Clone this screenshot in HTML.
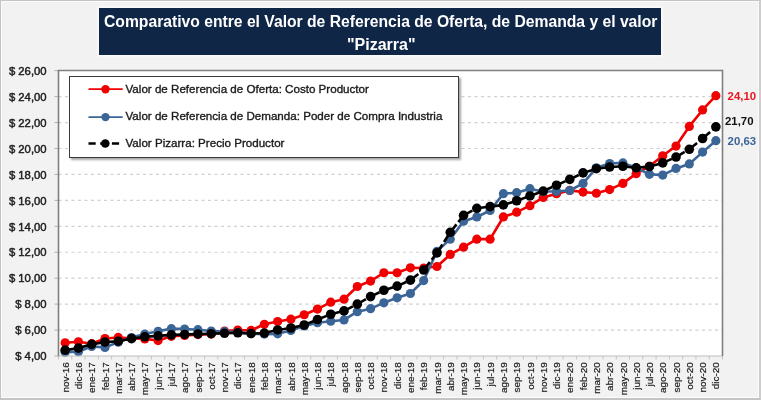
<!DOCTYPE html>
<html><head><meta charset="utf-8">
<style>
html,body{margin:0;padding:0;}
body{width:761px;height:400px;overflow:hidden;position:relative;background:#f2f2f2;font-family:"Liberation Sans",sans-serif;}
.frame{position:absolute;left:0;top:0;width:761px;height:400px;box-sizing:border-box;border-top:1px solid #c4c4c4;border-left:1px solid #c4c4c4;border-right:2px solid #cdcdcd;border-bottom:2px solid #c4c4c4;}
.inner{position:absolute;left:1px;top:1px;right:2px;bottom:2px;border:1px solid #fbfbfb;}
.title{position:absolute;left:99px;top:8px;width:562px;height:46.5px;background:#0f2647;color:#fff;font-weight:bold;box-shadow:0 0 2px 2px #f9f9f9;}
.t1,.t2{position:absolute;white-space:nowrap;font-size:16px;line-height:16px;transform-origin:0 0;}
.t1{transform:scaleX(0.98);}
svg{position:absolute;left:0;top:0;}
.legend{position:absolute;left:68.5px;top:75.5px;width:388px;height:80.3px;background:#fff;border:1.3px solid #3a3a3a;box-shadow:2px 2px 2px rgba(0,0,0,0.35);}
.li{position:absolute;left:56px;font-size:11.6px;color:#1a1a1a;white-space:nowrap;line-height:12px;-webkit-text-stroke:0.35px #1a1a1a;}
#w{position:absolute;left:0;top:0;width:761px;height:400px;filter:blur(0.4px);}
</style></head><body><div id="w">
<div class="frame"></div><div class="inner"></div>
<div class="title"><div class="t1" style="left:4.7px;top:6.3px;">Comparativo entre el Valor de Referencia de Oferta, de Demanda y el valor</div><div class="t2" style="left:248px;top:29px;">"Pizarra"</div></div>
<svg width="761" height="400" viewBox="0 0 761 400">
<rect x="58.5" y="70.5" width="664.0" height="285.5" fill="#fff"/>
<line x1="58.5" y1="330.06" x2="722.5" y2="330.06" stroke="#d0d0d0" stroke-width="1.2" stroke-dasharray="3 3.5"/><line x1="58.5" y1="304.12" x2="722.5" y2="304.12" stroke="#d0d0d0" stroke-width="1.2" stroke-dasharray="3 3.5"/><line x1="58.5" y1="278.18" x2="722.5" y2="278.18" stroke="#d0d0d0" stroke-width="1.2" stroke-dasharray="3 3.5"/><line x1="58.5" y1="252.24" x2="722.5" y2="252.24" stroke="#d0d0d0" stroke-width="1.2" stroke-dasharray="3 3.5"/><line x1="58.5" y1="226.30" x2="722.5" y2="226.30" stroke="#d0d0d0" stroke-width="1.2" stroke-dasharray="3 3.5"/><line x1="58.5" y1="200.36" x2="722.5" y2="200.36" stroke="#d0d0d0" stroke-width="1.2" stroke-dasharray="3 3.5"/><line x1="58.5" y1="174.42" x2="722.5" y2="174.42" stroke="#d0d0d0" stroke-width="1.2" stroke-dasharray="3 3.5"/><line x1="58.5" y1="148.48" x2="722.5" y2="148.48" stroke="#d0d0d0" stroke-width="1.2" stroke-dasharray="3 3.5"/><line x1="58.5" y1="122.54" x2="722.5" y2="122.54" stroke="#d0d0d0" stroke-width="1.2" stroke-dasharray="3 3.5"/><line x1="58.5" y1="96.60" x2="722.5" y2="96.60" stroke="#d0d0d0" stroke-width="1.2" stroke-dasharray="3 3.5"/><line x1="54.5" y1="356.00" x2="58.5" y2="356.00" stroke="#b0b0b0" stroke-width="1"/><line x1="54.5" y1="330.06" x2="58.5" y2="330.06" stroke="#b0b0b0" stroke-width="1"/><line x1="54.5" y1="304.12" x2="58.5" y2="304.12" stroke="#b0b0b0" stroke-width="1"/><line x1="54.5" y1="278.18" x2="58.5" y2="278.18" stroke="#b0b0b0" stroke-width="1"/><line x1="54.5" y1="252.24" x2="58.5" y2="252.24" stroke="#b0b0b0" stroke-width="1"/><line x1="54.5" y1="226.30" x2="58.5" y2="226.30" stroke="#b0b0b0" stroke-width="1"/><line x1="54.5" y1="200.36" x2="58.5" y2="200.36" stroke="#b0b0b0" stroke-width="1"/><line x1="54.5" y1="174.42" x2="58.5" y2="174.42" stroke="#b0b0b0" stroke-width="1"/><line x1="54.5" y1="148.48" x2="58.5" y2="148.48" stroke="#b0b0b0" stroke-width="1"/><line x1="54.5" y1="122.54" x2="58.5" y2="122.54" stroke="#b0b0b0" stroke-width="1"/><line x1="54.5" y1="96.60" x2="58.5" y2="96.60" stroke="#b0b0b0" stroke-width="1"/><line x1="54.5" y1="70.66" x2="58.5" y2="70.66" stroke="#b0b0b0" stroke-width="1"/><line x1="58.50" y1="356.0" x2="58.50" y2="359.5" stroke="#c4c4c4" stroke-width="1"/><line x1="71.78" y1="356.0" x2="71.78" y2="359.5" stroke="#c4c4c4" stroke-width="1"/><line x1="85.06" y1="356.0" x2="85.06" y2="359.5" stroke="#c4c4c4" stroke-width="1"/><line x1="98.34" y1="356.0" x2="98.34" y2="359.5" stroke="#c4c4c4" stroke-width="1"/><line x1="111.62" y1="356.0" x2="111.62" y2="359.5" stroke="#c4c4c4" stroke-width="1"/><line x1="124.90" y1="356.0" x2="124.90" y2="359.5" stroke="#c4c4c4" stroke-width="1"/><line x1="138.18" y1="356.0" x2="138.18" y2="359.5" stroke="#c4c4c4" stroke-width="1"/><line x1="151.46" y1="356.0" x2="151.46" y2="359.5" stroke="#c4c4c4" stroke-width="1"/><line x1="164.74" y1="356.0" x2="164.74" y2="359.5" stroke="#c4c4c4" stroke-width="1"/><line x1="178.02" y1="356.0" x2="178.02" y2="359.5" stroke="#c4c4c4" stroke-width="1"/><line x1="191.30" y1="356.0" x2="191.30" y2="359.5" stroke="#c4c4c4" stroke-width="1"/><line x1="204.58" y1="356.0" x2="204.58" y2="359.5" stroke="#c4c4c4" stroke-width="1"/><line x1="217.86" y1="356.0" x2="217.86" y2="359.5" stroke="#c4c4c4" stroke-width="1"/><line x1="231.14" y1="356.0" x2="231.14" y2="359.5" stroke="#c4c4c4" stroke-width="1"/><line x1="244.42" y1="356.0" x2="244.42" y2="359.5" stroke="#c4c4c4" stroke-width="1"/><line x1="257.70" y1="356.0" x2="257.70" y2="359.5" stroke="#c4c4c4" stroke-width="1"/><line x1="270.98" y1="356.0" x2="270.98" y2="359.5" stroke="#c4c4c4" stroke-width="1"/><line x1="284.26" y1="356.0" x2="284.26" y2="359.5" stroke="#c4c4c4" stroke-width="1"/><line x1="297.54" y1="356.0" x2="297.54" y2="359.5" stroke="#c4c4c4" stroke-width="1"/><line x1="310.82" y1="356.0" x2="310.82" y2="359.5" stroke="#c4c4c4" stroke-width="1"/><line x1="324.10" y1="356.0" x2="324.10" y2="359.5" stroke="#c4c4c4" stroke-width="1"/><line x1="337.38" y1="356.0" x2="337.38" y2="359.5" stroke="#c4c4c4" stroke-width="1"/><line x1="350.66" y1="356.0" x2="350.66" y2="359.5" stroke="#c4c4c4" stroke-width="1"/><line x1="363.94" y1="356.0" x2="363.94" y2="359.5" stroke="#c4c4c4" stroke-width="1"/><line x1="377.22" y1="356.0" x2="377.22" y2="359.5" stroke="#c4c4c4" stroke-width="1"/><line x1="390.50" y1="356.0" x2="390.50" y2="359.5" stroke="#c4c4c4" stroke-width="1"/><line x1="403.78" y1="356.0" x2="403.78" y2="359.5" stroke="#c4c4c4" stroke-width="1"/><line x1="417.06" y1="356.0" x2="417.06" y2="359.5" stroke="#c4c4c4" stroke-width="1"/><line x1="430.34" y1="356.0" x2="430.34" y2="359.5" stroke="#c4c4c4" stroke-width="1"/><line x1="443.62" y1="356.0" x2="443.62" y2="359.5" stroke="#c4c4c4" stroke-width="1"/><line x1="456.90" y1="356.0" x2="456.90" y2="359.5" stroke="#c4c4c4" stroke-width="1"/><line x1="470.18" y1="356.0" x2="470.18" y2="359.5" stroke="#c4c4c4" stroke-width="1"/><line x1="483.46" y1="356.0" x2="483.46" y2="359.5" stroke="#c4c4c4" stroke-width="1"/><line x1="496.74" y1="356.0" x2="496.74" y2="359.5" stroke="#c4c4c4" stroke-width="1"/><line x1="510.02" y1="356.0" x2="510.02" y2="359.5" stroke="#c4c4c4" stroke-width="1"/><line x1="523.30" y1="356.0" x2="523.30" y2="359.5" stroke="#c4c4c4" stroke-width="1"/><line x1="536.58" y1="356.0" x2="536.58" y2="359.5" stroke="#c4c4c4" stroke-width="1"/><line x1="549.86" y1="356.0" x2="549.86" y2="359.5" stroke="#c4c4c4" stroke-width="1"/><line x1="563.14" y1="356.0" x2="563.14" y2="359.5" stroke="#c4c4c4" stroke-width="1"/><line x1="576.42" y1="356.0" x2="576.42" y2="359.5" stroke="#c4c4c4" stroke-width="1"/><line x1="589.70" y1="356.0" x2="589.70" y2="359.5" stroke="#c4c4c4" stroke-width="1"/><line x1="602.98" y1="356.0" x2="602.98" y2="359.5" stroke="#c4c4c4" stroke-width="1"/><line x1="616.26" y1="356.0" x2="616.26" y2="359.5" stroke="#c4c4c4" stroke-width="1"/><line x1="629.54" y1="356.0" x2="629.54" y2="359.5" stroke="#c4c4c4" stroke-width="1"/><line x1="642.82" y1="356.0" x2="642.82" y2="359.5" stroke="#c4c4c4" stroke-width="1"/><line x1="656.10" y1="356.0" x2="656.10" y2="359.5" stroke="#c4c4c4" stroke-width="1"/><line x1="669.38" y1="356.0" x2="669.38" y2="359.5" stroke="#c4c4c4" stroke-width="1"/><line x1="682.66" y1="356.0" x2="682.66" y2="359.5" stroke="#c4c4c4" stroke-width="1"/><line x1="695.94" y1="356.0" x2="695.94" y2="359.5" stroke="#c4c4c4" stroke-width="1"/><line x1="709.22" y1="356.0" x2="709.22" y2="359.5" stroke="#c4c4c4" stroke-width="1"/><line x1="722.50" y1="356.0" x2="722.50" y2="359.5" stroke="#c4c4c4" stroke-width="1"/><polyline points="65.14,342.78 78.42,341.74 91.70,343.69 104.98,338.50 118.26,337.46 131.54,338.24 144.82,338.89 158.10,340.58 171.38,336.30 184.66,335.39 197.94,334.61 211.22,334.09 224.50,330.98 237.78,330.07 251.06,330.46 264.34,324.23 277.62,321.51 290.90,319.18 304.18,314.77 317.46,309.06 330.74,302.19 344.02,299.20 357.30,286.49 370.58,281.04 383.86,272.74 397.14,272.74 410.42,267.81 423.70,268.07 436.98,266.52 450.26,254.46 463.54,247.19 476.82,239.15 490.10,239.15 503.38,216.97 516.66,212.17 529.94,205.69 543.22,197.39 556.50,193.63 569.78,190.38 583.06,192.07 596.34,193.24 609.62,189.61 622.90,183.38 636.18,173.65 649.46,166.26 662.74,155.75 676.02,146.03 689.30,126.44 702.58,109.97 715.86,95.70" fill="none" stroke="#f00000" stroke-width="2.6" stroke-linejoin="round"/><circle cx="65.14" cy="342.78" r="4.6" fill="#f00000"/><circle cx="78.42" cy="341.74" r="4.6" fill="#f00000"/><circle cx="91.70" cy="343.69" r="4.6" fill="#f00000"/><circle cx="104.98" cy="338.50" r="4.6" fill="#f00000"/><circle cx="118.26" cy="337.46" r="4.6" fill="#f00000"/><circle cx="131.54" cy="338.24" r="4.6" fill="#f00000"/><circle cx="144.82" cy="338.89" r="4.6" fill="#f00000"/><circle cx="158.10" cy="340.58" r="4.6" fill="#f00000"/><circle cx="171.38" cy="336.30" r="4.6" fill="#f00000"/><circle cx="184.66" cy="335.39" r="4.6" fill="#f00000"/><circle cx="197.94" cy="334.61" r="4.6" fill="#f00000"/><circle cx="211.22" cy="334.09" r="4.6" fill="#f00000"/><circle cx="224.50" cy="330.98" r="4.6" fill="#f00000"/><circle cx="237.78" cy="330.07" r="4.6" fill="#f00000"/><circle cx="251.06" cy="330.46" r="4.6" fill="#f00000"/><circle cx="264.34" cy="324.23" r="4.6" fill="#f00000"/><circle cx="277.62" cy="321.51" r="4.6" fill="#f00000"/><circle cx="290.90" cy="319.18" r="4.6" fill="#f00000"/><circle cx="304.18" cy="314.77" r="4.6" fill="#f00000"/><circle cx="317.46" cy="309.06" r="4.6" fill="#f00000"/><circle cx="330.74" cy="302.19" r="4.6" fill="#f00000"/><circle cx="344.02" cy="299.20" r="4.6" fill="#f00000"/><circle cx="357.30" cy="286.49" r="4.6" fill="#f00000"/><circle cx="370.58" cy="281.04" r="4.6" fill="#f00000"/><circle cx="383.86" cy="272.74" r="4.6" fill="#f00000"/><circle cx="397.14" cy="272.74" r="4.6" fill="#f00000"/><circle cx="410.42" cy="267.81" r="4.6" fill="#f00000"/><circle cx="423.70" cy="268.07" r="4.6" fill="#f00000"/><circle cx="436.98" cy="266.52" r="4.6" fill="#f00000"/><circle cx="450.26" cy="254.46" r="4.6" fill="#f00000"/><circle cx="463.54" cy="247.19" r="4.6" fill="#f00000"/><circle cx="476.82" cy="239.15" r="4.6" fill="#f00000"/><circle cx="490.10" cy="239.15" r="4.6" fill="#f00000"/><circle cx="503.38" cy="216.97" r="4.6" fill="#f00000"/><circle cx="516.66" cy="212.17" r="4.6" fill="#f00000"/><circle cx="529.94" cy="205.69" r="4.6" fill="#f00000"/><circle cx="543.22" cy="197.39" r="4.6" fill="#f00000"/><circle cx="556.50" cy="193.63" r="4.6" fill="#f00000"/><circle cx="569.78" cy="190.38" r="4.6" fill="#f00000"/><circle cx="583.06" cy="192.07" r="4.6" fill="#f00000"/><circle cx="596.34" cy="193.24" r="4.6" fill="#f00000"/><circle cx="609.62" cy="189.61" r="4.6" fill="#f00000"/><circle cx="622.90" cy="183.38" r="4.6" fill="#f00000"/><circle cx="636.18" cy="173.65" r="4.6" fill="#f00000"/><circle cx="649.46" cy="166.26" r="4.6" fill="#f00000"/><circle cx="662.74" cy="155.75" r="4.6" fill="#f00000"/><circle cx="676.02" cy="146.03" r="4.6" fill="#f00000"/><circle cx="689.30" cy="126.44" r="4.6" fill="#f00000"/><circle cx="702.58" cy="109.97" r="4.6" fill="#f00000"/><circle cx="715.86" cy="95.70" r="4.6" fill="#f00000"/><polyline points="65.14,352.25 78.42,351.73 91.70,346.41 104.98,347.45 118.26,342.13 131.54,337.59 144.82,334.09 158.10,331.24 171.38,328.64 184.66,329.03 197.94,329.68 211.22,330.98 224.50,331.63 237.78,332.41 251.06,333.57 264.34,334.09 277.62,333.83 290.90,330.46 304.18,325.92 317.46,322.68 330.74,321.25 344.02,319.95 357.30,311.65 370.58,308.67 383.86,302.83 397.14,297.78 410.42,293.50 423.70,280.53 436.98,251.34 450.26,239.15 463.54,221.25 476.82,216.97 490.10,210.49 503.38,193.63 516.66,192.72 529.94,188.70 543.22,191.68 556.50,191.29 569.78,190.51 583.06,183.38 596.34,167.82 609.62,163.54 622.90,162.89 636.18,167.82 649.46,174.30 662.74,175.08 676.02,168.46 689.30,163.93 702.58,152.12 715.86,140.71" fill="none" stroke="#3b6596" stroke-width="2.6" stroke-linejoin="round"/><circle cx="65.14" cy="352.25" r="4.6" fill="#3b6596"/><circle cx="78.42" cy="351.73" r="4.6" fill="#3b6596"/><circle cx="91.70" cy="346.41" r="4.6" fill="#3b6596"/><circle cx="104.98" cy="347.45" r="4.6" fill="#3b6596"/><circle cx="118.26" cy="342.13" r="4.6" fill="#3b6596"/><circle cx="131.54" cy="337.59" r="4.6" fill="#3b6596"/><circle cx="144.82" cy="334.09" r="4.6" fill="#3b6596"/><circle cx="158.10" cy="331.24" r="4.6" fill="#3b6596"/><circle cx="171.38" cy="328.64" r="4.6" fill="#3b6596"/><circle cx="184.66" cy="329.03" r="4.6" fill="#3b6596"/><circle cx="197.94" cy="329.68" r="4.6" fill="#3b6596"/><circle cx="211.22" cy="330.98" r="4.6" fill="#3b6596"/><circle cx="224.50" cy="331.63" r="4.6" fill="#3b6596"/><circle cx="237.78" cy="332.41" r="4.6" fill="#3b6596"/><circle cx="251.06" cy="333.57" r="4.6" fill="#3b6596"/><circle cx="264.34" cy="334.09" r="4.6" fill="#3b6596"/><circle cx="277.62" cy="333.83" r="4.6" fill="#3b6596"/><circle cx="290.90" cy="330.46" r="4.6" fill="#3b6596"/><circle cx="304.18" cy="325.92" r="4.6" fill="#3b6596"/><circle cx="317.46" cy="322.68" r="4.6" fill="#3b6596"/><circle cx="330.74" cy="321.25" r="4.6" fill="#3b6596"/><circle cx="344.02" cy="319.95" r="4.6" fill="#3b6596"/><circle cx="357.30" cy="311.65" r="4.6" fill="#3b6596"/><circle cx="370.58" cy="308.67" r="4.6" fill="#3b6596"/><circle cx="383.86" cy="302.83" r="4.6" fill="#3b6596"/><circle cx="397.14" cy="297.78" r="4.6" fill="#3b6596"/><circle cx="410.42" cy="293.50" r="4.6" fill="#3b6596"/><circle cx="423.70" cy="280.53" r="4.6" fill="#3b6596"/><circle cx="436.98" cy="251.34" r="4.6" fill="#3b6596"/><circle cx="450.26" cy="239.15" r="4.6" fill="#3b6596"/><circle cx="463.54" cy="221.25" r="4.6" fill="#3b6596"/><circle cx="476.82" cy="216.97" r="4.6" fill="#3b6596"/><circle cx="490.10" cy="210.49" r="4.6" fill="#3b6596"/><circle cx="503.38" cy="193.63" r="4.6" fill="#3b6596"/><circle cx="516.66" cy="192.72" r="4.6" fill="#3b6596"/><circle cx="529.94" cy="188.70" r="4.6" fill="#3b6596"/><circle cx="543.22" cy="191.68" r="4.6" fill="#3b6596"/><circle cx="556.50" cy="191.29" r="4.6" fill="#3b6596"/><circle cx="569.78" cy="190.51" r="4.6" fill="#3b6596"/><circle cx="583.06" cy="183.38" r="4.6" fill="#3b6596"/><circle cx="596.34" cy="167.82" r="4.6" fill="#3b6596"/><circle cx="609.62" cy="163.54" r="4.6" fill="#3b6596"/><circle cx="622.90" cy="162.89" r="4.6" fill="#3b6596"/><circle cx="636.18" cy="167.82" r="4.6" fill="#3b6596"/><circle cx="649.46" cy="174.30" r="4.6" fill="#3b6596"/><circle cx="662.74" cy="175.08" r="4.6" fill="#3b6596"/><circle cx="676.02" cy="168.46" r="4.6" fill="#3b6596"/><circle cx="689.30" cy="163.93" r="4.6" fill="#3b6596"/><circle cx="702.58" cy="152.12" r="4.6" fill="#3b6596"/><circle cx="715.86" cy="140.71" r="4.6" fill="#3b6596"/><line x1="65.14" y1="350.17" x2="78.42" y2="348.10" stroke="#000000" stroke-width="2.6" stroke-dasharray="10 3"/><line x1="78.42" y1="348.10" x2="91.70" y2="344.34" stroke="#000000" stroke-width="2.6" stroke-dasharray="10 3"/><line x1="91.70" y1="344.34" x2="104.98" y2="342.13" stroke="#000000" stroke-width="2.6" stroke-dasharray="10 3"/><line x1="104.98" y1="342.13" x2="118.26" y2="341.23" stroke="#000000" stroke-width="2.6" stroke-dasharray="10 3"/><line x1="118.26" y1="341.23" x2="131.54" y2="338.63" stroke="#000000" stroke-width="2.6" stroke-dasharray="10 3"/><line x1="131.54" y1="338.63" x2="144.82" y2="336.82" stroke="#000000" stroke-width="2.6" stroke-dasharray="10 3"/><line x1="144.82" y1="336.82" x2="158.10" y2="335.91" stroke="#000000" stroke-width="2.6" stroke-dasharray="10 3"/><line x1="158.10" y1="335.91" x2="171.38" y2="334.87" stroke="#000000" stroke-width="2.6" stroke-dasharray="10 3"/><line x1="171.38" y1="334.87" x2="184.66" y2="334.48" stroke="#000000" stroke-width="2.6" stroke-dasharray="10 3"/><line x1="184.66" y1="334.48" x2="197.94" y2="333.96" stroke="#000000" stroke-width="2.6" stroke-dasharray="10 3"/><line x1="197.94" y1="333.96" x2="211.22" y2="333.70" stroke="#000000" stroke-width="2.6" stroke-dasharray="10 3"/><line x1="211.22" y1="333.70" x2="224.50" y2="333.31" stroke="#000000" stroke-width="2.6" stroke-dasharray="10 3"/><line x1="224.50" y1="333.31" x2="237.78" y2="332.79" stroke="#000000" stroke-width="2.6" stroke-dasharray="10 3"/><line x1="237.78" y1="332.79" x2="251.06" y2="333.57" stroke="#000000" stroke-width="2.6" stroke-dasharray="10 3"/><line x1="251.06" y1="333.57" x2="264.34" y2="333.05" stroke="#000000" stroke-width="2.6" stroke-dasharray="10 3"/><line x1="264.34" y1="333.05" x2="277.62" y2="329.94" stroke="#000000" stroke-width="2.6" stroke-dasharray="10 3"/><line x1="277.62" y1="329.94" x2="290.90" y2="328.00" stroke="#000000" stroke-width="2.6" stroke-dasharray="10 3"/><line x1="290.90" y1="328.00" x2="304.18" y2="325.01" stroke="#000000" stroke-width="2.6" stroke-dasharray="10 3"/><line x1="304.18" y1="325.01" x2="317.46" y2="319.57" stroke="#000000" stroke-width="2.6" stroke-dasharray="10 3"/><line x1="317.46" y1="319.57" x2="330.74" y2="314.25" stroke="#000000" stroke-width="2.6" stroke-dasharray="10 3"/><line x1="330.74" y1="314.25" x2="344.02" y2="310.88" stroke="#000000" stroke-width="2.6" stroke-dasharray="10 3"/><line x1="344.02" y1="310.88" x2="357.30" y2="304.13" stroke="#000000" stroke-width="2.6" stroke-dasharray="10 3"/><line x1="357.30" y1="304.13" x2="370.58" y2="296.61" stroke="#000000" stroke-width="2.6" stroke-dasharray="10 3"/><line x1="370.58" y1="296.61" x2="383.86" y2="290.25" stroke="#000000" stroke-width="2.6" stroke-dasharray="10 3"/><line x1="383.86" y1="290.25" x2="397.14" y2="286.10" stroke="#000000" stroke-width="2.6" stroke-dasharray="10 3"/><line x1="397.14" y1="286.10" x2="410.42" y2="280.14" stroke="#000000" stroke-width="2.6" stroke-dasharray="10 3"/><line x1="410.42" y1="280.14" x2="423.70" y2="270.02" stroke="#000000" stroke-width="2.6" stroke-dasharray="10 3"/><line x1="423.70" y1="270.02" x2="436.98" y2="252.90" stroke="#000000" stroke-width="2.6" stroke-dasharray="10 3"/><line x1="436.98" y1="252.90" x2="450.26" y2="232.28" stroke="#000000" stroke-width="2.6" stroke-dasharray="10 3"/><line x1="450.26" y1="232.28" x2="463.54" y2="215.42" stroke="#000000" stroke-width="2.6" stroke-dasharray="10 3"/><line x1="463.54" y1="215.42" x2="476.82" y2="208.28" stroke="#000000" stroke-width="2.6" stroke-dasharray="10 3"/><line x1="476.82" y1="208.28" x2="490.10" y2="206.60" stroke="#000000" stroke-width="2.6" stroke-dasharray="10 3"/><line x1="490.10" y1="206.60" x2="503.38" y2="204.91" stroke="#000000" stroke-width="2.6" stroke-dasharray="10 3"/><line x1="503.38" y1="204.91" x2="516.66" y2="200.76" stroke="#000000" stroke-width="2.6" stroke-dasharray="10 3"/><line x1="516.66" y1="200.76" x2="529.94" y2="195.96" stroke="#000000" stroke-width="2.6" stroke-dasharray="10 3"/><line x1="529.94" y1="195.96" x2="543.22" y2="191.03" stroke="#000000" stroke-width="2.6" stroke-dasharray="10 3"/><line x1="543.22" y1="191.03" x2="556.50" y2="185.20" stroke="#000000" stroke-width="2.6" stroke-dasharray="10 3"/><line x1="556.50" y1="185.20" x2="569.78" y2="179.36" stroke="#000000" stroke-width="2.6" stroke-dasharray="10 3"/><line x1="569.78" y1="179.36" x2="583.06" y2="172.87" stroke="#000000" stroke-width="2.6" stroke-dasharray="10 3"/><line x1="583.06" y1="172.87" x2="596.34" y2="168.72" stroke="#000000" stroke-width="2.6" stroke-dasharray="10 3"/><line x1="596.34" y1="168.72" x2="609.62" y2="167.04" stroke="#000000" stroke-width="2.6" stroke-dasharray="10 3"/><line x1="609.62" y1="167.04" x2="622.90" y2="166.26" stroke="#000000" stroke-width="2.6" stroke-dasharray="10 3"/><line x1="622.90" y1="166.26" x2="636.18" y2="167.82" stroke="#000000" stroke-width="2.6" stroke-dasharray="10 3"/><line x1="636.18" y1="167.82" x2="649.46" y2="166.52" stroke="#000000" stroke-width="2.6" stroke-dasharray="10 3"/><line x1="649.46" y1="166.52" x2="662.74" y2="162.89" stroke="#000000" stroke-width="2.6" stroke-dasharray="10 3"/><line x1="662.74" y1="162.89" x2="676.02" y2="157.05" stroke="#000000" stroke-width="2.6" stroke-dasharray="10 3"/><line x1="676.02" y1="157.05" x2="689.30" y2="149.27" stroke="#000000" stroke-width="2.6" stroke-dasharray="10 3"/><line x1="689.30" y1="149.27" x2="702.58" y2="138.50" stroke="#000000" stroke-width="2.6" stroke-dasharray="10 3"/><line x1="702.58" y1="138.50" x2="715.86" y2="126.83" stroke="#000000" stroke-width="2.6" stroke-dasharray="10 3"/><circle cx="65.14" cy="350.17" r="4.8" fill="#000000"/><circle cx="78.42" cy="348.10" r="4.8" fill="#000000"/><circle cx="91.70" cy="344.34" r="4.8" fill="#000000"/><circle cx="104.98" cy="342.13" r="4.8" fill="#000000"/><circle cx="118.26" cy="341.23" r="4.8" fill="#000000"/><circle cx="131.54" cy="338.63" r="4.8" fill="#000000"/><circle cx="144.82" cy="336.82" r="4.8" fill="#000000"/><circle cx="158.10" cy="335.91" r="4.8" fill="#000000"/><circle cx="171.38" cy="334.87" r="4.8" fill="#000000"/><circle cx="184.66" cy="334.48" r="4.8" fill="#000000"/><circle cx="197.94" cy="333.96" r="4.8" fill="#000000"/><circle cx="211.22" cy="333.70" r="4.8" fill="#000000"/><circle cx="224.50" cy="333.31" r="4.8" fill="#000000"/><circle cx="237.78" cy="332.79" r="4.8" fill="#000000"/><circle cx="251.06" cy="333.57" r="4.8" fill="#000000"/><circle cx="264.34" cy="333.05" r="4.8" fill="#000000"/><circle cx="277.62" cy="329.94" r="4.8" fill="#000000"/><circle cx="290.90" cy="328.00" r="4.8" fill="#000000"/><circle cx="304.18" cy="325.01" r="4.8" fill="#000000"/><circle cx="317.46" cy="319.57" r="4.8" fill="#000000"/><circle cx="330.74" cy="314.25" r="4.8" fill="#000000"/><circle cx="344.02" cy="310.88" r="4.8" fill="#000000"/><circle cx="357.30" cy="304.13" r="4.8" fill="#000000"/><circle cx="370.58" cy="296.61" r="4.8" fill="#000000"/><circle cx="383.86" cy="290.25" r="4.8" fill="#000000"/><circle cx="397.14" cy="286.10" r="4.8" fill="#000000"/><circle cx="410.42" cy="280.14" r="4.8" fill="#000000"/><circle cx="423.70" cy="270.02" r="4.8" fill="#000000"/><circle cx="436.98" cy="252.90" r="4.8" fill="#000000"/><circle cx="450.26" cy="232.28" r="4.8" fill="#000000"/><circle cx="463.54" cy="215.42" r="4.8" fill="#000000"/><circle cx="476.82" cy="208.28" r="4.8" fill="#000000"/><circle cx="490.10" cy="206.60" r="4.8" fill="#000000"/><circle cx="503.38" cy="204.91" r="4.8" fill="#000000"/><circle cx="516.66" cy="200.76" r="4.8" fill="#000000"/><circle cx="529.94" cy="195.96" r="4.8" fill="#000000"/><circle cx="543.22" cy="191.03" r="4.8" fill="#000000"/><circle cx="556.50" cy="185.20" r="4.8" fill="#000000"/><circle cx="569.78" cy="179.36" r="4.8" fill="#000000"/><circle cx="583.06" cy="172.87" r="4.8" fill="#000000"/><circle cx="596.34" cy="168.72" r="4.8" fill="#000000"/><circle cx="609.62" cy="167.04" r="4.8" fill="#000000"/><circle cx="622.90" cy="166.26" r="4.8" fill="#000000"/><circle cx="636.18" cy="167.82" r="4.8" fill="#000000"/><circle cx="649.46" cy="166.52" r="4.8" fill="#000000"/><circle cx="662.74" cy="162.89" r="4.8" fill="#000000"/><circle cx="676.02" cy="157.05" r="4.8" fill="#000000"/><circle cx="689.30" cy="149.27" r="4.8" fill="#000000"/><circle cx="702.58" cy="138.50" r="4.8" fill="#000000"/><circle cx="715.86" cy="126.83" r="4.8" fill="#000000"/><line x1="58.5" y1="356.0" x2="722.5" y2="356.0" stroke="#bdbdbd" stroke-width="1.2"/><path d="M58.5,356.0 V70.5 H722.5 V356.0" fill="none" stroke="#7f7f7f" stroke-width="1.6"/>
<g font-family="Liberation Sans" font-size="9" fill="#1a1a1a" stroke="#1a1a1a" stroke-width="0.2"><text transform="translate(68.74,362.3) rotate(-90) scale(1.1,1)" text-anchor="end">nov-16</text><text transform="translate(82.02,362.3) rotate(-90) scale(1.1,1)" text-anchor="end">dic-16</text><text transform="translate(95.30,362.3) rotate(-90) scale(1.1,1)" text-anchor="end">ene-17</text><text transform="translate(108.58,362.3) rotate(-90) scale(1.1,1)" text-anchor="end">feb-17</text><text transform="translate(121.86,362.3) rotate(-90) scale(1.1,1)" text-anchor="end">mar-17</text><text transform="translate(135.14,362.3) rotate(-90) scale(1.1,1)" text-anchor="end">abr-17</text><text transform="translate(148.42,362.3) rotate(-90) scale(1.1,1)" text-anchor="end">may-17</text><text transform="translate(161.70,362.3) rotate(-90) scale(1.1,1)" text-anchor="end">jun-17</text><text transform="translate(174.98,362.3) rotate(-90) scale(1.1,1)" text-anchor="end">jul-17</text><text transform="translate(188.26,362.3) rotate(-90) scale(1.1,1)" text-anchor="end">ago-17</text><text transform="translate(201.54,362.3) rotate(-90) scale(1.1,1)" text-anchor="end">sep-17</text><text transform="translate(214.82,362.3) rotate(-90) scale(1.1,1)" text-anchor="end">oct-17</text><text transform="translate(228.10,362.3) rotate(-90) scale(1.1,1)" text-anchor="end">nov-17</text><text transform="translate(241.38,362.3) rotate(-90) scale(1.1,1)" text-anchor="end">dic-17</text><text transform="translate(254.66,362.3) rotate(-90) scale(1.1,1)" text-anchor="end">ene-18</text><text transform="translate(267.94,362.3) rotate(-90) scale(1.1,1)" text-anchor="end">feb-18</text><text transform="translate(281.22,362.3) rotate(-90) scale(1.1,1)" text-anchor="end">mar-18</text><text transform="translate(294.50,362.3) rotate(-90) scale(1.1,1)" text-anchor="end">abr-18</text><text transform="translate(307.78,362.3) rotate(-90) scale(1.1,1)" text-anchor="end">may-18</text><text transform="translate(321.06,362.3) rotate(-90) scale(1.1,1)" text-anchor="end">jun-18</text><text transform="translate(334.34,362.3) rotate(-90) scale(1.1,1)" text-anchor="end">jul-18</text><text transform="translate(347.62,362.3) rotate(-90) scale(1.1,1)" text-anchor="end">ago-18</text><text transform="translate(360.90,362.3) rotate(-90) scale(1.1,1)" text-anchor="end">sep-18</text><text transform="translate(374.18,362.3) rotate(-90) scale(1.1,1)" text-anchor="end">oct-18</text><text transform="translate(387.46,362.3) rotate(-90) scale(1.1,1)" text-anchor="end">nov-18</text><text transform="translate(400.74,362.3) rotate(-90) scale(1.1,1)" text-anchor="end">dic-18</text><text transform="translate(414.02,362.3) rotate(-90) scale(1.1,1)" text-anchor="end">ene-19</text><text transform="translate(427.30,362.3) rotate(-90) scale(1.1,1)" text-anchor="end">feb-19</text><text transform="translate(440.58,362.3) rotate(-90) scale(1.1,1)" text-anchor="end">mar-19</text><text transform="translate(453.86,362.3) rotate(-90) scale(1.1,1)" text-anchor="end">abr-19</text><text transform="translate(467.14,362.3) rotate(-90) scale(1.1,1)" text-anchor="end">may-19</text><text transform="translate(480.42,362.3) rotate(-90) scale(1.1,1)" text-anchor="end">jun-19</text><text transform="translate(493.70,362.3) rotate(-90) scale(1.1,1)" text-anchor="end">jul-19</text><text transform="translate(506.98,362.3) rotate(-90) scale(1.1,1)" text-anchor="end">ago-19</text><text transform="translate(520.26,362.3) rotate(-90) scale(1.1,1)" text-anchor="end">sep-19</text><text transform="translate(533.54,362.3) rotate(-90) scale(1.1,1)" text-anchor="end">oct-19</text><text transform="translate(546.82,362.3) rotate(-90) scale(1.1,1)" text-anchor="end">nov-19</text><text transform="translate(560.10,362.3) rotate(-90) scale(1.1,1)" text-anchor="end">dic-19</text><text transform="translate(573.38,362.3) rotate(-90) scale(1.1,1)" text-anchor="end">ene-20</text><text transform="translate(586.66,362.3) rotate(-90) scale(1.1,1)" text-anchor="end">feb-20</text><text transform="translate(599.94,362.3) rotate(-90) scale(1.1,1)" text-anchor="end">mar-20</text><text transform="translate(613.22,362.3) rotate(-90) scale(1.1,1)" text-anchor="end">abr-20</text><text transform="translate(626.50,362.3) rotate(-90) scale(1.1,1)" text-anchor="end">may-20</text><text transform="translate(639.78,362.3) rotate(-90) scale(1.1,1)" text-anchor="end">jun-20</text><text transform="translate(653.06,362.3) rotate(-90) scale(1.1,1)" text-anchor="end">jul-20</text><text transform="translate(666.34,362.3) rotate(-90) scale(1.1,1)" text-anchor="end">ago-20</text><text transform="translate(679.62,362.3) rotate(-90) scale(1.1,1)" text-anchor="end">sep-20</text><text transform="translate(692.90,362.3) rotate(-90) scale(1.1,1)" text-anchor="end">oct-20</text><text transform="translate(706.18,362.3) rotate(-90) scale(1.1,1)" text-anchor="end">nov-20</text><text transform="translate(719.46,362.3) rotate(-90) scale(1.1,1)" text-anchor="end">dic-20</text></g>
<g font-family="Liberation Sans" font-size="11.3" fill="#202020" stroke="#202020" stroke-width="0.45"><text x="46.6" y="360.20" text-anchor="end">$ 4,00</text><text x="46.6" y="334.26" text-anchor="end">$ 6,00</text><text x="46.6" y="308.32" text-anchor="end">$ 8,00</text><text x="46.6" y="282.38" text-anchor="end">$ 10,00</text><text x="46.6" y="256.44" text-anchor="end">$ 12,00</text><text x="46.6" y="230.50" text-anchor="end">$ 14,00</text><text x="46.6" y="204.56" text-anchor="end">$ 16,00</text><text x="46.6" y="178.62" text-anchor="end">$ 18,00</text><text x="46.6" y="152.68" text-anchor="end">$ 20,00</text><text x="46.6" y="126.74" text-anchor="end">$ 22,00</text><text x="46.6" y="100.80" text-anchor="end">$ 24,00</text><text x="46.6" y="74.86" text-anchor="end">$ 26,00</text></g>
<g font-family="Liberation Sans" font-size="11.4" font-weight="bold">
<text x="727.6" y="100.2" fill="#e8161e">24,10</text>
<text x="725" y="125.2" fill="#111">21,70</text>
<text x="727.6" y="145.2" fill="#3b6596">20,63</text>
</g>
</svg>
<div class="legend">
<svg width="60" height="80" style="left:0;top:0">
<line x1="18.5" y1="12.2" x2="52.7" y2="12.2" stroke="#f00000" stroke-width="1.8"/><circle cx="35.5" cy="12.2" r="4.2" fill="#f00000"/>
<line x1="18.5" y1="40.1" x2="52.7" y2="40.1" stroke="#3b6596" stroke-width="1.8"/><circle cx="35.5" cy="40.1" r="4.2" fill="#3b6596"/>
<line x1="18.5" y1="66.5" x2="49.1" y2="66.5" stroke="#000" stroke-width="2.4" stroke-dasharray="7.2 4.5"/><circle cx="35.3" cy="66.5" r="4.3" fill="#000"/>
</svg>
<div class="li" style="top:6.3px;">Valor de Referencia de Oferta: Costo Productor</div>
<div class="li" style="top:33.3px;">Valor de Referencia de Demanda: Poder de Compra Industria</div>
<div class="li" style="top:60.3px;">Valor Pizarra: Precio Productor</div>
</div>
</div></body></html>
